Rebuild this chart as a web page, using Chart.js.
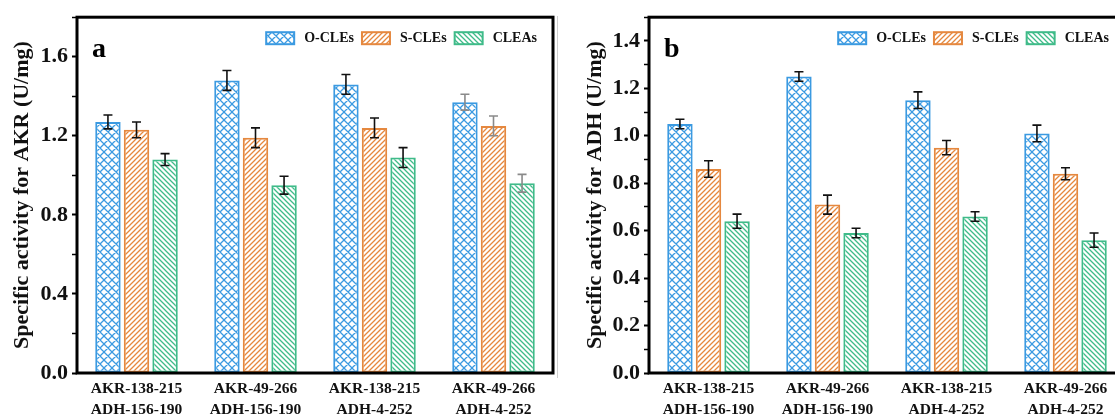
<!DOCTYPE html>
<html>
<head>
<meta charset="utf-8">
<script src="https://cdn.jsdelivr.net/npm/chart.js@4.4.0/dist/chart.umd.min.js"></script>
<style>
html, body { margin: 0; padding: 0; background: #fff; overflow: hidden; }
#wrap { position: relative; width: 1115px; height: 416px; overflow: hidden; }
#c1 { position: absolute; left: 0; top: 0; }
#c2 { position: absolute; left: 560px; top: 0; }
#sep { position: absolute; left: 557px; top: 16px; width: 1px; height: 362px; background: #cfcfcf; }
</style>
</head>
<body>
<div id="wrap">
  <canvas id="c1" width="560" height="416"></canvas>
  <div id="sep"></div>
  <canvas id="c2" width="575" height="416"></canvas>
</div>
<script>
// categorias (duas linhas por grupo)
const grupos = [
  ['AKR-138-215', 'ADH-156-190'],
  ['AKR-49-266', 'ADH-156-190'],
  ['AKR-138-215', 'ADH-4-252'],
  ['AKR-49-266', 'ADH-4-252']
];
const series = ['O-CLEs', 'S-CLEs', 'CLEAs'];

// painel a - atividade AKR (U/mg)
const akrO = [1.27, 1.48, 1.46, 1.37];
const akrS = [1.23, 1.19, 1.24, 1.25];
const akrC = [1.08, 0.95, 1.09, 0.96];
const akrErrO = [0.035, 0.05, 0.05, 0.04];
const akrErrS = [0.04, 0.05, 0.05, 0.05];
const akrErrC = [0.03, 0.045, 0.05, 0.045];

// painel b - atividade ADH (U/mg)
const adhO = [1.05, 1.25, 1.15, 1.01];
const adhS = [0.86, 0.71, 0.95, 0.84];
const adhC = [0.64, 0.59, 0.66, 0.56];
const adhErrO = [0.02, 0.02, 0.035, 0.035];
const adhErrS = [0.035, 0.04, 0.03, 0.025];
const adhErrC = [0.03, 0.02, 0.02, 0.03];

const cores = ['#3b9ae1', '#e5883f', '#3fbb89'];
const tipos = ['x', '/', '\\'];
const fonte = '"Liberation Serif", "Times New Roman", serif';

// padrão de hachura para as barras
function hachura(cor, tipo) {
  const s = tipo === 'x' ? 8 : 5;
  const c = document.createElement('canvas');
  c.width = c.height = s;
  const g = c.getContext('2d');
  g.fillStyle = '#fff';
  g.fillRect(0, 0, s, s);
  g.strokeStyle = cor;
  g.lineWidth = 1.3;
  g.beginPath();
  if (tipo !== '\\') {
    g.moveTo(-1, s + 1); g.lineTo(s + 1, -1);
    g.moveTo(-1, 1); g.lineTo(1, -1);
    g.moveTo(s - 1, s + 1); g.lineTo(s + 1, s - 1);
  }
  if (tipo !== '/') {
    g.moveTo(-1, -1); g.lineTo(s + 1, s + 1);
    g.moveTo(s - 1, -1); g.lineTo(s + 1, 1);
    g.moveTo(-1, s - 1); g.lineTo(1, s + 1);
  }
  g.stroke();
  return g.createPattern(c, 'repeat');
}

// moldura, barras de erro, legenda e letra do painel
const painel = {
  id: 'painel',
  afterDatasetsDraw(chart, args, opts) {
    const ctx = chart.ctx;
    const y = chart.scales.y;
    ctx.save();
    chart.data.datasets.forEach((ds, i) => {
      const meta = chart.getDatasetMeta(i);
      meta.data.forEach((bar, j) => {
        const v = ds.data[j], e = opts.erros[i][j];
        const y1 = y.getPixelForValue(v + e), y2 = y.getPixelForValue(v - e);
        ctx.strokeStyle = opts.corErro[j];
        ctx.lineWidth = 1.6;
        ctx.beginPath();
        ctx.moveTo(bar.x, y1); ctx.lineTo(bar.x, y2);
        ctx.moveTo(bar.x - 4.5, y1); ctx.lineTo(bar.x + 4.5, y1);
        ctx.moveTo(bar.x - 4.5, y2); ctx.lineTo(bar.x + 4.5, y2);
        ctx.stroke();
      });
    });
    ctx.restore();
  },
  afterDraw(chart, args, opts) {
    const ctx = chart.ctx;
    const a = chart.chartArea;
    ctx.save();
    ctx.strokeStyle = '#000';
    ctx.lineWidth = 3;
    ctx.strokeRect(a.left, a.top, a.right - a.left, a.bottom - a.top);
    ctx.fillStyle = '#000';
    ctx.font = 'bold 28px ' + fonte;
    ctx.textBaseline = 'alphabetic';
    ctx.fillText(opts.letra, a.left + 15, a.top + 40);

    // legenda no canto superior direito, dentro da moldura
    ctx.font = 'bold 14px ' + fonte;
    ctx.textBaseline = 'middle';
    const dsets = chart.data.datasets;
    const larguras = dsets.map(d => 28 + 10 + ctx.measureText(d.label).width);
    let x = a.right - 16 - larguras.reduce((s, w) => s + w, 0) - 8 * (dsets.length - 1);
    const yc = a.top + 21;
    dsets.forEach((d, i) => {
      ctx.fillStyle = d.backgroundColor;
      ctx.fillRect(x, yc - 6, 28, 12);
      ctx.strokeStyle = d.borderColor;
      ctx.lineWidth = 2;
      ctx.strokeRect(x, yc - 6, 28, 12);
      ctx.fillStyle = '#111';
      ctx.fillText(d.label, x + 38, yc);
      x += larguras[i] + 8;
    });
    ctx.restore();
  }
};

function criarGrafico(id, valores, erros, corErro, cfg) {
  const ctx = document.getElementById(id).getContext('2d');
  return new Chart(ctx, {
    type: 'bar',
    data: {
      labels: grupos,
      datasets: series.map((nome, i) => ({
        label: nome,
        data: valores[i],
        backgroundColor: hachura(cores[i], tipos[i]),
        borderColor: cores[i],
        borderWidth: 2,
        borderSkipped: false,
        categoryPercentage: 0.72,
        barPercentage: 0.89
      }))
    },
    options: {
      responsive: false,
      animation: false,
      layout: { padding: { top: 16, right: cfg.padDir, left: 0, bottom: 0 } },
      plugins: {
        legend: { display: false },
        tooltip: { enabled: false },
        painel: { letra: cfg.letra, erros: erros, corErro: corErro }
      },
      scales: {
        x: {
          grid: { display: false, drawTicks: false },
          border: { display: false },
          ticks: {
            color: '#111',
            padding: 6,
            maxRotation: 0,
            autoSkip: false,
            font: { family: fonte, weight: 'bold', size: 15.5, lineHeight: 1.35 }
          },
          afterFit: s => { s.height = 43; }
        },
        y: {
          min: 0,
          max: cfg.max,
          border: { display: false },
          grid: {
            drawOnChartArea: false,
            drawTicks: true,
            tickLength: 5,
            tickColor: '#000',
            tickWidth: c => (c.index % 2 === 0 ? 2 : 1.5)
          },
          ticks: {
            stepSize: cfg.passo,
            autoSkip: false,
            padding: 4,
            color: '#111',
            font: { family: fonte, weight: 'bold', size: 22 },
            callback: (v, i) => (i % 2 === 0 ? v.toFixed(1) : '')
          },
          title: {
            display: true,
            text: cfg.titulo,
            color: '#111',
            padding: { top: cfg.padTitulo, bottom: 0 },
            font: { family: fonte, weight: 'bold', size: 22 }
          },
          afterFit: s => { s.width = cfg.larguraY; }
        }
      }
    },
    plugins: [painel]
  });
}

function inicializar() {
  criarGrafico('c1', [akrO, akrS, akrC], [akrErrO, akrErrS, akrErrC],
    ['#111', '#111', '#111', '#8a8a8a'],
    { max: 1.8, passo: 0.2, titulo: 'Specific activity for AKR (U/mg)', letra: 'a',
      larguraY: 77, padDir: 7, padTitulo: 9 });
  criarGrafico('c2', [adhO, adhS, adhC], [adhErrO, adhErrS, adhErrC],
    ['#111', '#111', '#111', '#111'],
    { max: 1.5, passo: 0.1, titulo: 'Specific activity for ADH (U/mg)', letra: 'b',
      larguraY: 89, padDir: 10, padTitulo: 22 });
}

inicializar();
</script>
</body>
</html>
